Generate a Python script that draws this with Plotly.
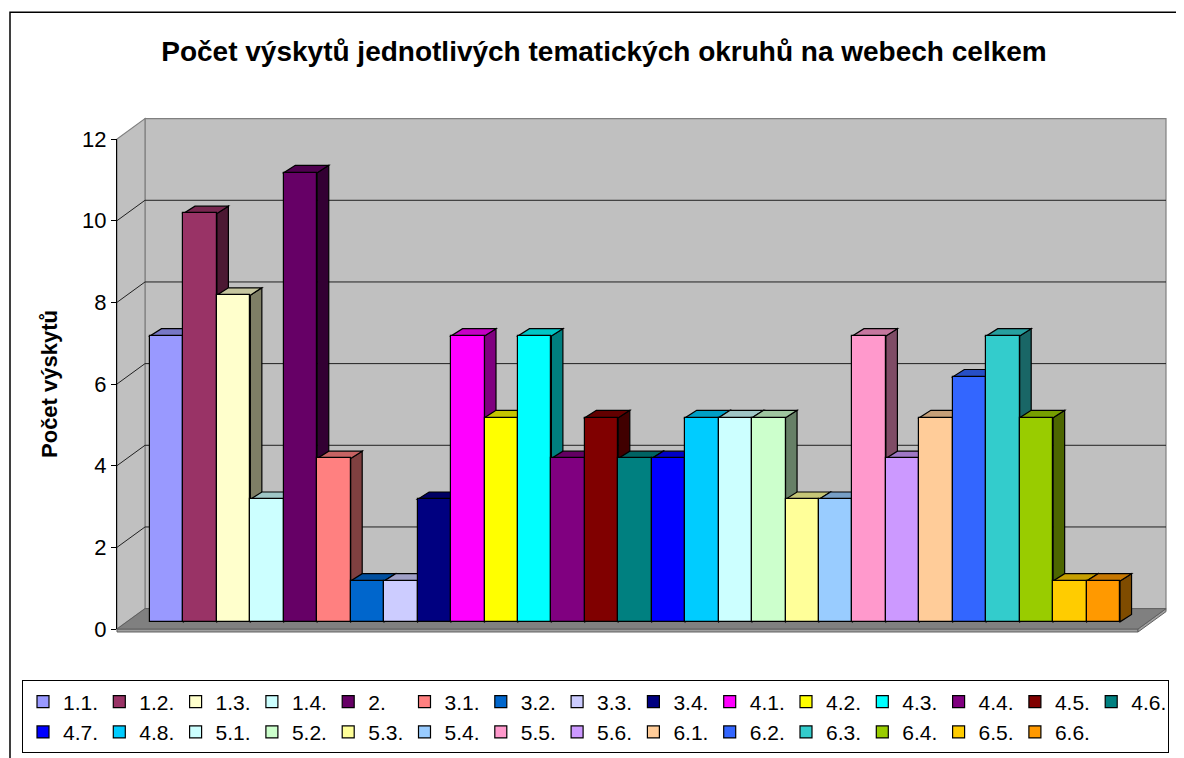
import plotly.graph_objects as go

# ---------------- data ----------------
categories = ["1.1.", "1.2.", "1.3.", "1.4.", "2.", "3.1.", "3.2.", "3.3.", "3.4.",
              "4.1.", "4.2.", "4.3.", "4.4.", "4.5.", "4.6.", "4.7.", "4.8.",
              "5.1.", "5.2.", "5.3.", "5.4.", "5.5.", "5.6.",
              "6.1.", "6.2.", "6.3.", "6.4.", "6.5.", "6.6."]
values = [7, 10, 8, 3, 11, 4, 1, 1, 3,
          7, 5, 7, 4, 5, 4, 4, 5,
          5, 5, 3, 3, 7, 4,
          5, 6, 7, 5, 1, 1]
colors = ["#9999FF", "#993366", "#FFFFCC", "#CCFFFF", "#660066", "#FF8080", "#0066CC", "#CCCCFF", "#000080",
          "#FF00FF", "#FFFF00", "#00FFFF", "#800080", "#800000", "#008080", "#0000FF", "#00CCFF",
          "#CCFFFF", "#CCFFCC", "#FFFF99", "#99CCFF", "#FF99CC", "#CC99FF",
          "#FFCC99", "#3366FF", "#33CCCC", "#99CC00", "#FFCC00", "#FF9900"]
y_ticks = [0, 2, 4, 6, 8, 10, 12]
title_text = "Počet výskytů jednotlivých tematických okruhů na webech celkem"
y_title = "Počet výskytů"

# ---------------- geometry ----------------
# page offset: the html body has an 8px margin, so the figure is drawn 8px in
OFF = 8
W, H = 1184 - OFF, 758 - OFF
# positions below are page pixels; converted to figure pixels by subtracting OFF
PL, PR, PT, PB = 117 - OFF, 1166 - OFF, 139 - OFF, 629.5 - OFF   # front plane plot area
YMAX = 12
K = (PB - PT) / YMAX                            # px per unit
WALL_DX, WALL_DY = 28, 20.4                     # depth of the walls
BAR_X0 = 150 - OFF                               # left edge of first bar
XS = 33.45                                       # bar width in px
BAR_BASE = 622.3 - OFF                           # px of bar zero
BAR_DX, BAR_DY = 11.5, 7.3                       # bar depth


def shade(hexcol, f):
    h = hexcol.lstrip("#")
    r, g, b = (int(h[i:i + 2], 16) for i in (0, 2, 4))
    return "#%02X%02X%02X" % (int(r * f), int(g * f), int(b * f))


def px_x(px):
    return (px - PL) / (PR - PL)


def px_y(py):
    return (PB - py) / (PB - PT)


def ppath(points):
    return "M" + " L".join(f"{px_x(a):.5f},{px_y(b):.5f}" for a, b in points) + " Z"


x0c = BAR_X0 + XS / 2
x_range = [(PL - x0c) / XS, (PR - x0c) / XS]
y2_range = [-(PB - BAR_BASE) / K, (BAR_BASE - PT) / K]
ddx = BAR_DX / XS
ddy = BAR_DY / K

fig = go.Figure()
# invisible anchor so that the front-plane value axis (y) is rendered
fig.add_trace(go.Scatter(x=[0], y=[0], mode="markers", marker=dict(opacity=0),
                         showlegend=False, hoverinfo="skip", yaxis="y"))
for i, (c, v, col) in enumerate(zip(categories, values, colors)):
    fig.add_trace(go.Bar(x=[i], y=[v], width=[1], name=c, yaxis="y2",
                         marker=dict(color=col, line=dict(color="black", width=1.2))))

shapes = []
# walls (paper-referenced so they may extend beyond the front plane)
back = [(PL + WALL_DX, PT - WALL_DY), (PR, PT - WALL_DY), (PR, PB - WALL_DY), (PL + WALL_DX, PB - WALL_DY)]
shapes.append(dict(type="path", xref="paper", yref="paper", layer="below",
                   path=ppath(back), fillcolor="#C0C0C0", line=dict(color="#808080", width=1.2)))
left = [(PL, PB), (PL + WALL_DX, PB - WALL_DY), (PL + WALL_DX, PT - WALL_DY), (PL, PT)]
shapes.append(dict(type="path", xref="paper", yref="paper", layer="below",
                   path=ppath(left), fillcolor="#C0C0C0", line=dict(color="#808080", width=1.2)))
for t in y_ticks[1:-1]:
    yb = PB - WALL_DY - K * t
    shapes.append(dict(type="line", xref="paper", yref="paper", layer="below",
                       x0=px_x(PL + WALL_DX), x1=px_x(PR), y0=px_y(yb), y1=px_y(yb),
                       line=dict(color="#202020", width=1)))
    shapes.append(dict(type="line", xref="paper", yref="paper", layer="below",
                       x0=px_x(PL), x1=px_x(PL + WALL_DX), y0=px_y(PB - K * t), y1=px_y(yb),
                       line=dict(color="#202020", width=1)))
# floor slab
FX = PR - WALL_DX
floor_front = [(PL, PB), (FX, PB), (FX, PB + 3), (PL, PB + 3)]
floor_side = [(FX, PB), (PR, PB - WALL_DY), (PR, PB - WALL_DY + 3), (FX, PB + 3)]
floor_top = [(PL, PB), (PL + WALL_DX, PB - WALL_DY), (PR, PB - WALL_DY), (FX, PB)]
shapes.append(dict(type="path", xref="paper", yref="paper", layer="below",
                   path=ppath(floor_front), fillcolor="#A0A0A0", line=dict(color="#606060", width=1)))
shapes.append(dict(type="path", xref="paper", yref="paper", layer="below",
                   path=ppath(floor_side), fillcolor="#A0A0A0", line=dict(color="#606060", width=1)))
shapes.append(dict(type="path", xref="paper", yref="paper", layer="below",
                   path=ppath(floor_top), fillcolor="#808080", line=dict(color="#606060", width=1)))

# 3-D faces of the bars (drawn below the bar traces, left to right)
for i, (v, col) in enumerate(zip(values, colors)):
    xa, xb = i - 0.5, i + 0.5
    side = f"M{xb},0 L{xb},{v} L{xb + ddx},{v + ddy} L{xb + ddx},{ddy} Z"
    top = f"M{xa},{v} L{xb},{v} L{xb + ddx},{v + ddy} L{xa + ddx},{v + ddy} Z"
    shapes.append(dict(type="path", xref="x", yref="y2", layer="below", path=side,
                       fillcolor=shade(col, 0.5), line=dict(color="black", width=1.2)))
    shapes.append(dict(type="path", xref="x", yref="y2", layer="below", path=top,
                       fillcolor=shade(col, 0.78), line=dict(color="black", width=1.2)))

# outer chart border
shapes.append(dict(type="rect", xref="paper", yref="paper", layer="above",
                   x0=px_x(10 - OFF), x1=px_x(1200), y0=px_y(780), y1=px_y(12 - OFF),
                   line=dict(color="black", width=1.5), fillcolor="rgba(0,0,0,0)"))

fig.update_layout(
    width=W, height=H,
    margin=dict(l=PL, r=W - PR, t=PT, b=H - PB, pad=0, autoexpand=False),
    paper_bgcolor="white", plot_bgcolor="rgba(0,0,0,0)",
    font=dict(family="Liberation Sans, Arial, sans-serif", color="black"),
    barmode="overlay", bargap=0,
    title=dict(text="<b>" + title_text + "</b>", x=(604 - OFF) / W, xref="container", xanchor="center",
               y=1 - (51 - OFF) / H, yref="container", yanchor="middle",
               font=dict(size=28, color="black")),
    xaxis=dict(range=x_range, visible=False, fixedrange=True),
    yaxis=dict(range=[0, YMAX], tickvals=y_ticks, showgrid=False, zeroline=False,
               showline=True, linecolor="black", linewidth=1,
               ticks="outside", ticklen=5, tickcolor="black",
               tickfont=dict(size=22, color="black"), fixedrange=True,
               title=dict(text="<b>" + y_title + "</b>", font=dict(size=22, color="black"), standoff=18)),
    yaxis2=dict(range=y2_range, overlaying="y", visible=False, fixedrange=True),
    shapes=shapes,
    showlegend=True,
    legend=dict(orientation="h", x=px_x(22 - OFF), y=px_y(681 - OFF), xanchor="left", yanchor="top",
                bordercolor="black", borderwidth=1, bgcolor="white",
                font=dict(size=21, color="black"),
                entrywidth=31.3, entrywidthmode="pixels", traceorder="normal"),
)

fig.write_html("out.html")
